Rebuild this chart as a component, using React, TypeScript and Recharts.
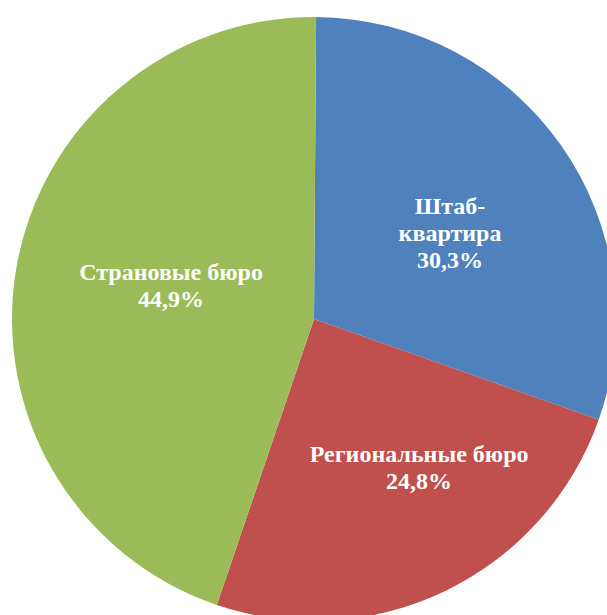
import React from 'react';
import { PieChart, Pie, Cell } from 'recharts';

const categories = ['Штаб-квартира', 'Региональные бюро', 'Страновые бюро'];
const shares = [30.3, 24.8, 44.9];
// label lines as they are broken on the chart
const labelLines = [['Штаб-', 'квартира'], ['Региональные бюро'], ['Страновые бюро']];
const colors = ['#4F81BD', '#C0504D', '#9BBB59'];

const data = categories.map((name, i) => ({ name, value: shares[i], lines: labelLines[i] }));

const RAD = Math.PI / 180;
// label distance from center as a share of radius, plus a small nudge, per slice
const labelRadius = [0.53, 0.6, 0.49];
const labelNudge = [
  [5, 6],
  [26, -15],
  [3, -9],
];

const renderLabel = (props: any) => {
  const { cx, cy, midAngle, outerRadius, index, payload } = props;
  const r = outerRadius * labelRadius[index];
  const x = cx + r * Math.cos(-midAngle * RAD) + labelNudge[index][0];
  const y = cy + r * Math.sin(-midAngle * RAD) + labelNudge[index][1];
  const lines: string[] = [...payload.lines, payload.value.toFixed(1).replace('.', ',') + '%'];
  const lh = 27;
  const top = y - ((lines.length - 1) * lh) / 2;
  return (
    <text
      x={x}
      y={top}
      fill="#ffffff"
      textAnchor="middle"
      dominantBaseline="central"
      fontFamily="'Liberation Serif', 'Times New Roman', serif"
      fontWeight="bold"
      fontSize={24}
    >
      {lines.map((l, i) => (
        <tspan key={i} x={x} y={top + i * lh}>
          {l}
        </tspan>
      ))}
    </text>
  );
};

export default function App() {
  return (
    <div style={{ position: 'absolute', left: 0, top: 0, width: 607, height: 615, overflow: 'hidden', background: '#fff' }}>
      <PieChart width={607} height={615} margin={{ top: 0, right: 0, bottom: 0, left: 0 }}>
        <Pie
          data={data}
          dataKey="value"
          nameKey="name"
          cx={314}
          cy={319}
          outerRadius={302}
          startAngle={89.6}
          endAngle={-270.4}
          stroke="none"
          label={renderLabel}
          labelLine={false}
          isAnimationActive={false}
        >
          {data.map((d, i) => (
            <Cell key={d.name} fill={colors[i]} />
          ))}
        </Pie>
      </PieChart>
    </div>
  );
}
